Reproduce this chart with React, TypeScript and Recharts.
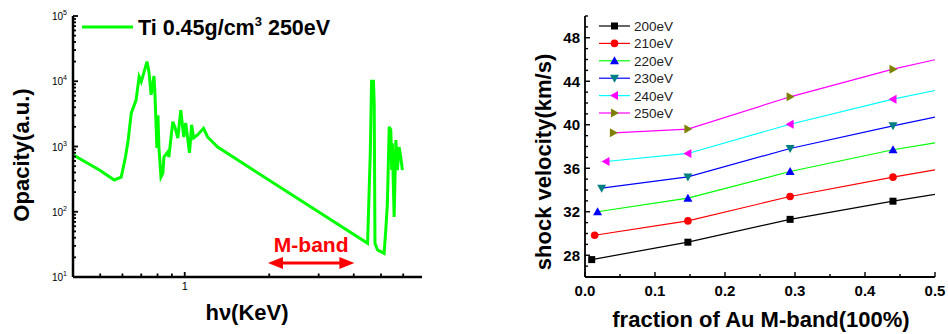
import React from 'react';
import { LineChart, Line, XAxis, YAxis, Legend, ReferenceLine } from 'recharts';

const FONT = '"Liberation Sans", Arial, Helvetica, sans-serif';

// ---- left panel: Ti opacity spectrum (log-log) ----
const photonEnergy = [
  0.4, 0.5, 0.561, 0.594, 0.615, 0.629, 0.645, 0.671, 0.688, 0.7,
  0.734, 0.746, 0.759, 0.777, 0.783, 0.796, 0.803, 0.809, 0.823, 0.836,
  0.843, 0.871, 0.878, 0.907, 0.922, 0.945, 0.968, 0.992, 1.008, 1.04,
  1.058, 1.076, 1.11, 1.167, 1.206, 1.31, 4.48, 4.58, 4.63, 4.67,
  4.7, 4.73, 4.76, 4.86, 5.13, 5.2, 5.27, 5.35, 5.42, 5.46,
  5.49, 5.57, 5.65, 5.72, 5.8, 5.88, 5.96,
];
const opacity = [
  745, 430, 307, 340, 690, 1260, 3240, 5140, 11700, 9800,
  20000, 13800, 6200, 12000, 6600, 950, 3000, 990, 340, 390,
  690, 830, 690, 2400, 2000, 1350, 3600, 1400, 2300, 800,
  2150, 1350, 1500, 1900, 1400, 980, 32.8, 795, 10500, 7000,
  10500, 4650, 33, 26, 23, 52, 135, 2000, 1790, 435,
  1120, 83, 1260, 435, 980, 690, 435,
];
const energyTicks = [0.5, 0.6, 0.7, 0.8, 0.9, 1, 2, 3, 4, 5, 6];
const opacityTicks = [
  10, 20, 30, 40, 50, 60, 70, 80, 90,
  100, 200, 300, 400, 500, 600, 700, 800, 900,
  1000, 2000, 3000, 4000, 5000, 6000, 7000, 8000, 9000,
  10000, 20000, 30000, 40000, 50000, 60000, 70000, 80000, 90000,
  100000,
];
const mBandEnergy = [1.98, 4.02];
const mBandLevel = 16.4;

// ---- right panel: shock velocity vs M-band fraction ----
const seriesLabels = ['200eV', '210eV', '220eV', '230eV', '240eV', '250eV'];
const firstFraction = [0.0096, 0.0138, 0.018, 0.0238, 0.03, 0.0405];
const laterFractions = [0.147, 0.293, 0.44, 0.5];
const v200 = [27.6, 29.2, 31.3, 32.97, 33.6];
const v210 = [29.84, 31.16, 33.4, 35.18, 35.86];
const v220 = [32.0, 33.25, 35.7, 37.7, 38.34];
const v230 = [34.17, 35.2, 37.82, 39.9, 40.7];
const v240 = [36.62, 37.36, 40.05, 42.35, 43.15];
const v250 = [39.26, 39.6, 42.57, 45.11, 45.98];
const fractionTicks = [0, 0.05, 0.1, 0.15, 0.2, 0.25, 0.3, 0.35, 0.4, 0.45, 0.5];
const velocityTicks = [26, 27, 28, 29, 30, 31, 32, 33, 34, 35, 36, 37, 38, 39, 40, 41, 42, 43, 44, 45, 46, 47, 48, 49, 50];

const lineColors = ['#000000', '#ff0000', '#00ff00', '#0000ff', '#00ffff', '#ff00ff'];
const markerColors = ['#000000', '#ff0000', '#0000ff', '#008080', '#ff00ff', '#808000'];
const markerShapes = ['square', 'circle', 'up', 'down', 'left', 'right'];

const spectrum = photonEnergy.map((e, i) => ({ e, k: opacity[i] }));
const velocitySeries = [v200, v210, v220, v230, v240, v250].map((vals, s) =>
  vals.map((v, i) => ({ f: i === 0 ? firstFraction[s] : laterFractions[i - 1], v }))
);

const Marker = ({ shape, color, cx, cy }: any) => {
  switch (shape) {
    case 'square':
      return <rect x={cx - 3.5} y={cy - 3.5} width={7} height={7} fill={color} />;
    case 'circle':
      return <circle cx={cx} cy={cy} r={3.8} fill={color} />;
    case 'up':
      return <path d={`M${cx},${cy - 4.5}L${cx + 4.5},${cy + 3.5}L${cx - 4.5},${cy + 3.5}Z`} fill={color} />;
    case 'down':
      return <path d={`M${cx - 4.5},${cy - 3.5}L${cx + 4.5},${cy - 3.5}L${cx},${cy + 4.5}Z`} fill={color} />;
    case 'left':
      return <path d={`M${cx - 4.5},${cy}L${cx + 3.5},${cy - 4.5}L${cx + 3.5},${cy + 4.5}Z`} fill={color} />;
    default:
      return <path d={`M${cx + 4.5},${cy}L${cx - 3.5},${cy - 4.5}L${cx - 3.5},${cy + 4.5}Z`} fill={color} />;
  }
};

// log axis ticks, drawn inward
const EnergyTick = ({ x, y, payload }: any) => {
  const major = payload.value === 1;
  return (
    <g>
      <line x1={x} x2={x} y1={y} y2={y - (major ? 5 : 3.5)} stroke="#000" strokeWidth={1.8} />
      {major && (
        <text x={x} y={y + 13} textAnchor="middle" fontSize={11} fontFamily={FONT} fill="#000">1</text>
      )}
    </g>
  );
};

const OpacityTick = ({ x, y, payload }: any) => {
  const lg = Math.log10(payload.value);
  const exp = Math.round(lg);
  const major = Math.abs(lg - exp) < 1e-6;
  return (
    <g>
      <line x1={x} x2={x + (major ? 5 : 3)} y1={y} y2={y} stroke="#000" strokeWidth={1.8} />
      {major && (
        <text x={x - 6} y={y + 4} textAnchor="end" fontSize={10} fontFamily={FONT} fill="#000">
          10<tspan dy={-5} fontSize={7}>{exp}</tspan>
        </text>
      )}
    </g>
  );
};

const FractionTick = ({ x, y, payload, top }: any) => {
  const major = Math.abs(payload.value * 10 - Math.round(payload.value * 10)) < 1e-6;
  const len = major ? 5 : 3;
  return (
    <g>
      <line x1={x} x2={x} y1={y} y2={top ? y + len : y - len} stroke="#000" strokeWidth={1.4} />
      {major && !top && (
        <text x={x} y={y + 19} textAnchor="middle" fontSize={15} fontWeight="bold" fontFamily={FONT} fill="#000">
          {payload.value.toFixed(1)}
        </text>
      )}
    </g>
  );
};

const VelocityTick = ({ x, y, payload, right }: any) => {
  const major = payload.value % 4 === 0;
  const len = major ? 5 : 3;
  return (
    <g>
      <line x1={x} x2={right ? x - len : x + len} y1={y} y2={y} stroke="#000" strokeWidth={1.4} />
      {major && !right && (
        <text x={x - 5} y={y + 5.5} textAnchor="end" fontSize={15} fontWeight="bold" fontFamily={FONT} fill="#000">
          {payload.value}
        </text>
      )}
    </g>
  );
};

const MBandArrow = (props: any) => {
  const { x1, y1, x2 } = props;
  const y = y1;
  return (
    <g>
      <line x1={x1 + 10} x2={x2 - 10} y1={y} y2={y} stroke="#ff0000" strokeWidth={3} />
      <path d={`M${x1},${y}L${x1 + 15},${y - 6}L${x1 + 15},${y + 6}Z`} fill="#ff0000" />
      <path d={`M${x2},${y}L${x2 - 15},${y - 6}L${x2 - 15},${y + 6}Z`} fill="#ff0000" />
      <text x={(x1 + x2) / 2} y={y - 10.5} textAnchor="middle" fill="#ff0000" fontWeight="bold" fontSize={21} fontFamily={FONT}>
        M-band
      </text>
    </g>
  );
};

const SpectrumLegend = () => (
  <svg width={430} height={45}>
    <line x1={82} x2={133} y1={27} y2={27} stroke="#00ff00" strokeWidth={2.8} />
    <text x={138} y={35} fontSize={21.5} fontWeight="bold" fontFamily={FONT} fill="#000">
      Ti 0.45g/cm<tspan dy={-9} fontSize={13}>3</tspan>
      <tspan dy={9}> 250eV</tspan>
    </text>
  </svg>
);

const VelocityLegend = () => (
  <svg width={160} height={125}>
    {seriesLabels.map((label, i) => {
      const y = 26 + i * 17.4;
      return (
        <g key={label}>
          <line x1={79} x2={110} y1={y} y2={y} stroke={lineColors[i]} strokeWidth={1.2} />
          <Marker shape={markerShapes[i]} color={markerColors[i]} cx={94.5} cy={y} />
          <text x={114} y={y + 5} fontSize={13.5} fontFamily={FONT} fill="#222">{label}</text>
        </g>
      );
    })}
  </svg>
);

const Title = ({ text, cx, cy, rotate }: any) => (
  <div
    style={{
      position: 'absolute',
      left: cx,
      top: cy,
      transform: `translate(-50%, -50%)${rotate ? ' rotate(-90deg)' : ''}`,
      whiteSpace: 'nowrap',
      fontFamily: FONT,
      fontWeight: 'bold',
      fontSize: 22,
      lineHeight: 1,
      color: '#000',
    }}
  >
    {text}
  </div>
);

export default function App() {
  return (
    <div style={{ position: 'absolute', left: 0, top: 0, width: 948, height: 334, background: '#fff', overflow: 'hidden' }}>
      <div style={{ position: 'absolute', left: 0, top: 0 }}>
        <LineChart width={430} height={334} margin={{ top: 16, right: 8, bottom: 0, left: 0 }}>
          <XAxis
            dataKey="e"
            type="number"
            scale="log"
            domain={[0.4, 7]}
            allowDataOverflow
            ticks={energyTicks}
            interval={0}
            height={57}
            tickSize={0}
            tickMargin={0}
            tickLine={false}
            tick={<EnergyTick />}
            axisLine={{ stroke: '#000', strokeWidth: 2.5 }}
          />
          <YAxis
            type="number"
            scale="log"
            domain={[10, 100000]}
            allowDataOverflow
            ticks={opacityTicks}
            interval={0}
            width={73}
            tickSize={0}
            tickMargin={0}
            tickLine={false}
            tick={<OpacityTick />}
            axisLine={{ stroke: '#000', strokeWidth: 2.5 }}
          />
          <Line
            data={spectrum}
            dataKey="k"
            type="linear"
            stroke="#00ff00"
            strokeWidth={3}
            dot={false}
            isAnimationActive={false}
          />
          <ReferenceLine
            segment={[{ x: mBandEnergy[0], y: mBandLevel }, { x: mBandEnergy[1], y: mBandLevel }]}
            shape={MBandArrow}
          />
          <Legend
            layout="vertical"
            align="center"
            verticalAlign="middle"
            content={<SpectrumLegend />}
            wrapperStyle={{ position: 'absolute', left: 0, top: 0, width: 430, height: 45 }}
          />
        </LineChart>
      </div>

      <div style={{ position: 'absolute', left: 520, top: 0 }}>
        <LineChart width={428} height={334} margin={{ top: 16, right: 13, bottom: 0, left: 0 }}>
          <XAxis
            dataKey="f"
            type="number"
            domain={[0, 0.5]}
            allowDataOverflow
            ticks={fractionTicks}
            interval={0}
            height={57}
            tickSize={0}
            tickMargin={0}
            tickLine={false}
            tick={<FractionTick />}
            axisLine={{ stroke: '#000', strokeWidth: 1.8 }}
          />
          <XAxis
            xAxisId="top"
            orientation="top"
            dataKey="f"
            type="number"
            domain={[0, 0.5]}
            allowDataOverflow
            ticks={fractionTicks}
            interval={0}
            height={0}
            tickSize={0}
            tickMargin={0}
            tickLine={false}
            tick={<FractionTick top />}
            axisLine={{ stroke: '#000', strokeWidth: 1.8 }}
          />
          <YAxis
            type="number"
            domain={[26, 50]}
            allowDataOverflow
            ticks={velocityTicks}
            interval={0}
            width={65}
            tickSize={0}
            tickMargin={0}
            tickLine={false}
            tick={<VelocityTick />}
            axisLine={{ stroke: '#000', strokeWidth: 1.8 }}
          />
          <YAxis
            yAxisId="right"
            orientation="right"
            type="number"
            domain={[26, 50]}
            allowDataOverflow
            ticks={velocityTicks}
            interval={0}
            width={0}
            tickSize={0}
            tickMargin={0}
            tickLine={false}
            tick={<VelocityTick right />}
            axisLine={{ stroke: '#000', strokeWidth: 1.8 }}
          />
          {velocitySeries.map((rows, s) => (
            <Line
              key={seriesLabels[s]}
              data={rows}
              dataKey="v"
              type="linear"
              stroke={lineColors[s]}
              strokeWidth={1.2}
              isAnimationActive={false}
              dot={(p: any) =>
                p.index === rows.length - 1 ? (
                  <g key={p.index} />
                ) : (
                  <Marker key={p.index} shape={markerShapes[s]} color={markerColors[s]} cx={p.cx} cy={p.cy} />
                )
              }
            />
          ))}
          <Legend
            layout="vertical"
            align="center"
            verticalAlign="middle"
            content={<VelocityLegend />}
            wrapperStyle={{ position: 'absolute', left: 0, top: 0, width: 160, height: 125 }}
          />
        </LineChart>
      </div>

      <Title text="Opacity(a.u.)" cx={22} cy={155} rotate />
      <Title text="hν(KeV)" cx={247} cy={313} />
      <Title text="shock velocity(km/s)" cx={544} cy={162} rotate />
      <Title text="fraction of Au M-band(100%)" cx={761} cy={320} />
    </div>
  );
}
